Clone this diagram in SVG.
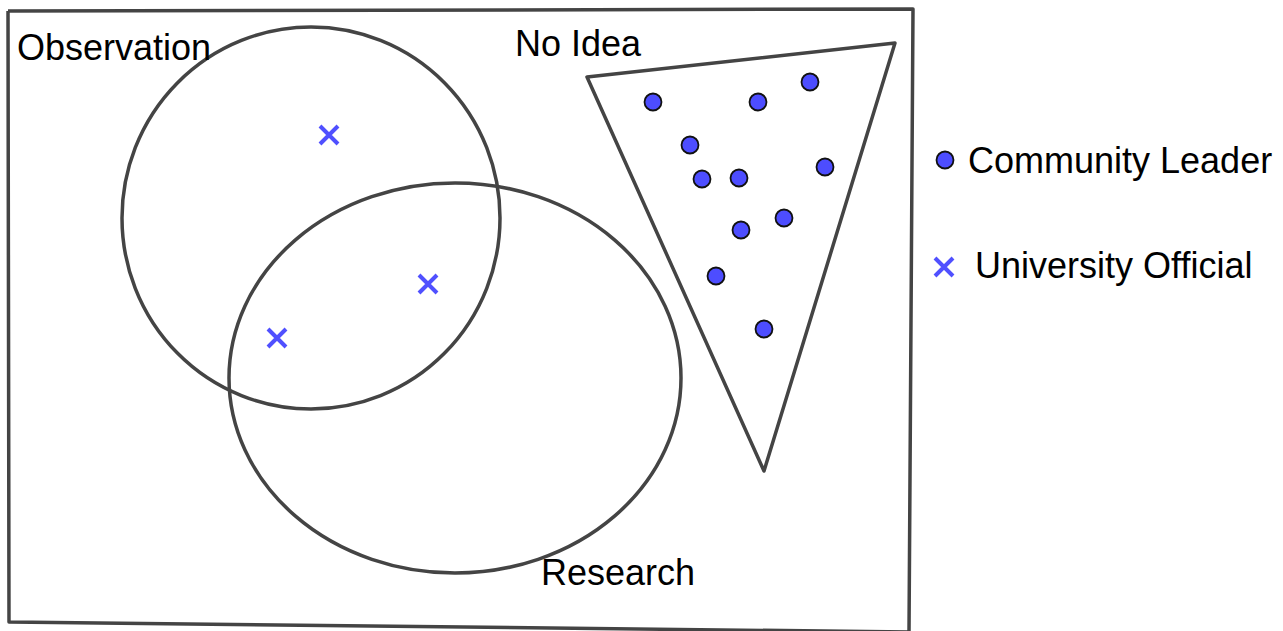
<svg xmlns="http://www.w3.org/2000/svg" width="1283" height="631" viewBox="0 0 1283 631">
<style>
.sh{fill:none;stroke:#444;stroke-width:3.5;stroke-linejoin:round}
.dot{fill:#4d4dff;stroke:#111;stroke-width:1.8}
.x{stroke:#5050ff;stroke-width:4;fill:none}
text{font-family:"Liberation Sans",Arial,sans-serif;font-size:36px;fill:#000}
</style>
<defs>
<path id="xm" class="x" d="M-9,-9L9,9M-9,9L9,-9"/>
</defs>
<rect width="1283" height="631" fill="#fff"/>
<g id="frame"><path class="sh" d="M8,11 L913,9 L909,633 M909,632 L9,622 L8,11"/></g>
<g id="observation"><ellipse class="sh" cx="311" cy="218" rx="189" ry="191"/><text x="17" y="60">Observation</text></g>
<g id="research"><ellipse class="sh" cx="455" cy="378" rx="226" ry="195"/><text x="541" y="585">Research</text></g>
<g id="noidea"><polygon class="sh" points="587,77 895,43 764,471"/><text x="515" y="56">No Idea</text></g>
<g id="leaders">
<circle class="dot" cx="653" cy="102" r="8.5"/>
<circle class="dot" cx="758" cy="102" r="8.5"/>
<circle class="dot" cx="810" cy="82" r="8.5"/>
<circle class="dot" cx="690" cy="145" r="8.5"/>
<circle class="dot" cx="702" cy="179" r="8.5"/>
<circle class="dot" cx="739" cy="178" r="8.5"/>
<circle class="dot" cx="825" cy="167" r="8.5"/>
<circle class="dot" cx="784" cy="218" r="8.5"/>
<circle class="dot" cx="741" cy="230" r="8.5"/>
<circle class="dot" cx="716" cy="276" r="8.5"/>
<circle class="dot" cx="764" cy="329" r="8.5"/>
</g>
<g id="officials">
<use href="#xm" x="329" y="135"/>
<use href="#xm" x="428" y="284"/>
<use href="#xm" x="277" y="338"/>
</g>
<g id="legend">
<circle class="dot" cx="945" cy="160" r="8.5"/>
<text x="968" y="173">Community Leader</text>
<use href="#xm" x="944" y="267"/>
<text x="975" y="278">University Official</text>
</g>
</svg>
